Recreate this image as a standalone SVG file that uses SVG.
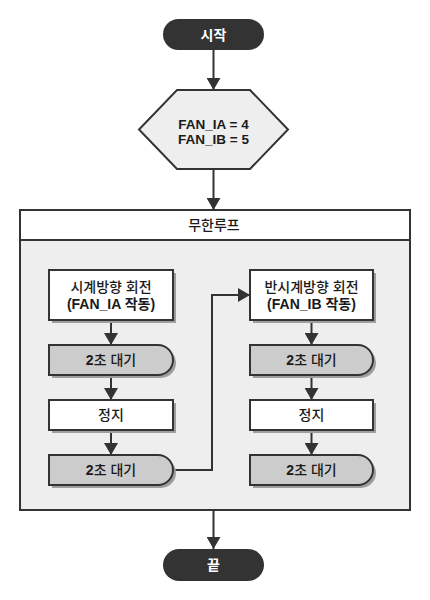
<svg xmlns="http://www.w3.org/2000/svg" width="430" height="600" viewBox="0 0 430 600">
<defs>
<style>
text{font-family:"Liberation Sans","Noto Sans CJK KR",sans-serif;font-size:14px;fill:#1a1a1a;text-anchor:middle}
.b{font-weight:bold}
.n{font-weight:500}
.k{font-weight:500}
.term{fill:#333;stroke:none}
.tt{fill:#fff;font-weight:bold}
.box{fill:#fff;stroke:#333;stroke-width:2}
.dly{fill:#ccc;stroke:#333;stroke-width:2}
.sh{fill:#9e9e9e;stroke:none}
.hex{fill:#eee;stroke:#333;stroke-width:2}
.ln{fill:none;stroke:#333;stroke-width:2}
</style>
<marker id="ah" viewBox="0 0 12 14" refX="12" refY="7" markerWidth="12" markerHeight="14" markerUnits="userSpaceOnUse" orient="auto">
<path d="M0,0 L12,7 L0,14 Z" fill="#333"/>
</marker>
</defs>
<rect width="430" height="600" fill="#fff"/>

<g id="loop">
<rect x="20" y="210" width="390" height="300" fill="#eee" stroke="#333" stroke-width="2"/>
<rect x="20" y="210" width="390" height="30" fill="#fff" stroke="#333" stroke-width="2"/>
<text class="n" x="214" y="230">무한루프</text>
</g>

<g id="connectors">
<line class="ln" x1="213.5" y1="50" x2="213.5" y2="90" marker-end="url(#ah)"/>
<line class="ln" x1="213.5" y1="169" x2="213.5" y2="210" marker-end="url(#ah)"/>
<line class="ln" x1="213.5" y1="510" x2="213.5" y2="549" marker-end="url(#ah)"/>
<line class="ln" x1="111" y1="320" x2="111" y2="345" marker-end="url(#ah)"/>
<line class="ln" x1="111" y1="375" x2="111" y2="400" marker-end="url(#ah)"/>
<line class="ln" x1="111" y1="430" x2="111" y2="455" marker-end="url(#ah)"/>
<line class="ln" x1="311.5" y1="320" x2="311.5" y2="345" marker-end="url(#ah)"/>
<line class="ln" x1="311.5" y1="375" x2="311.5" y2="400" marker-end="url(#ah)"/>
<line class="ln" x1="311.5" y1="430" x2="311.5" y2="455" marker-end="url(#ah)"/>
<polyline class="ln" points="173,470 212,470 212,295 250,295" marker-end="url(#ah)"/>
</g>

<g id="start">
<rect class="term" x="163" y="19" width="101" height="31" rx="15.5"/>
<text class="tt" x="213.5" y="40">시작</text>
</g>

<g id="init">
<polygon class="hex" points="177,90 250,90 288,129.5 250,169 177,169 139,129.5"/>
<text class="b" x="213.5" y="129" style="font-size:13.5px">FAN_IA = 4</text>
<text class="b" x="213.5" y="144" style="font-size:13.5px">FAN_IB = 5</text>
</g>

<g id="cw">
<rect class="sh" x="52" y="273" width="124" height="50"/>
<rect class="box" x="49" y="270" width="124" height="50"/>
<text class="n" x="111" y="292">시계방향 회전</text>
<text class="b" x="111" y="309">(FAN_IA 작동)</text>
</g>

<g id="wait1">
<path class="sh" d="M52,348 H161 A15,15 0 0 1 161,378 H52 Z"/>
<path class="dly" d="M49,345 H158 A15,15 0 0 1 158,375 H49 Z"/>
<text class="b" x="111" y="365">2<tspan class="k">초 대기</tspan></text>
</g>

<g id="stop1">
<rect class="sh" x="52" y="403" width="124" height="30"/>
<rect class="box" x="49" y="400" width="124" height="30"/>
<text class="n" x="111" y="420">정지</text>
</g>

<g id="wait2">
<path class="sh" d="M52,458 H161 A15,15 0 0 1 161,488 H52 Z"/>
<path class="dly" d="M49,455 H158 A15,15 0 0 1 158,485 H49 Z"/>
<text class="b" x="111" y="475">2<tspan class="k">초 대기</tspan></text>
</g>

<g id="ccw">
<rect class="sh" x="253" y="273" width="123" height="50"/>
<rect class="box" x="250" y="270" width="123" height="50"/>
<text class="n" x="311.5" y="292">반시계방향 회전</text>
<text class="b" x="311.5" y="309">(FAN_IB 작동)</text>
</g>

<g id="wait3">
<path class="sh" d="M253,348 H361 A15,15 0 0 1 361,378 H253 Z"/>
<path class="dly" d="M250,345 H358 A15,15 0 0 1 358,375 H250 Z"/>
<text class="b" x="311.5" y="365">2<tspan class="k">초 대기</tspan></text>
</g>

<g id="stop2">
<rect class="sh" x="253" y="403" width="123" height="30"/>
<rect class="box" x="250" y="400" width="123" height="30"/>
<text class="n" x="311.5" y="420">정지</text>
</g>

<g id="wait4">
<path class="sh" d="M253,458 H361 A15,15 0 0 1 361,488 H253 Z"/>
<path class="dly" d="M250,455 H358 A15,15 0 0 1 358,485 H250 Z"/>
<text class="b" x="311.5" y="475">2<tspan class="k">초 대기</tspan></text>
</g>

<g id="end">
<rect class="term" x="163" y="549" width="101" height="32" rx="16"/>
<text class="tt" x="213.5" y="570">끝</text>
</g>
</svg>
